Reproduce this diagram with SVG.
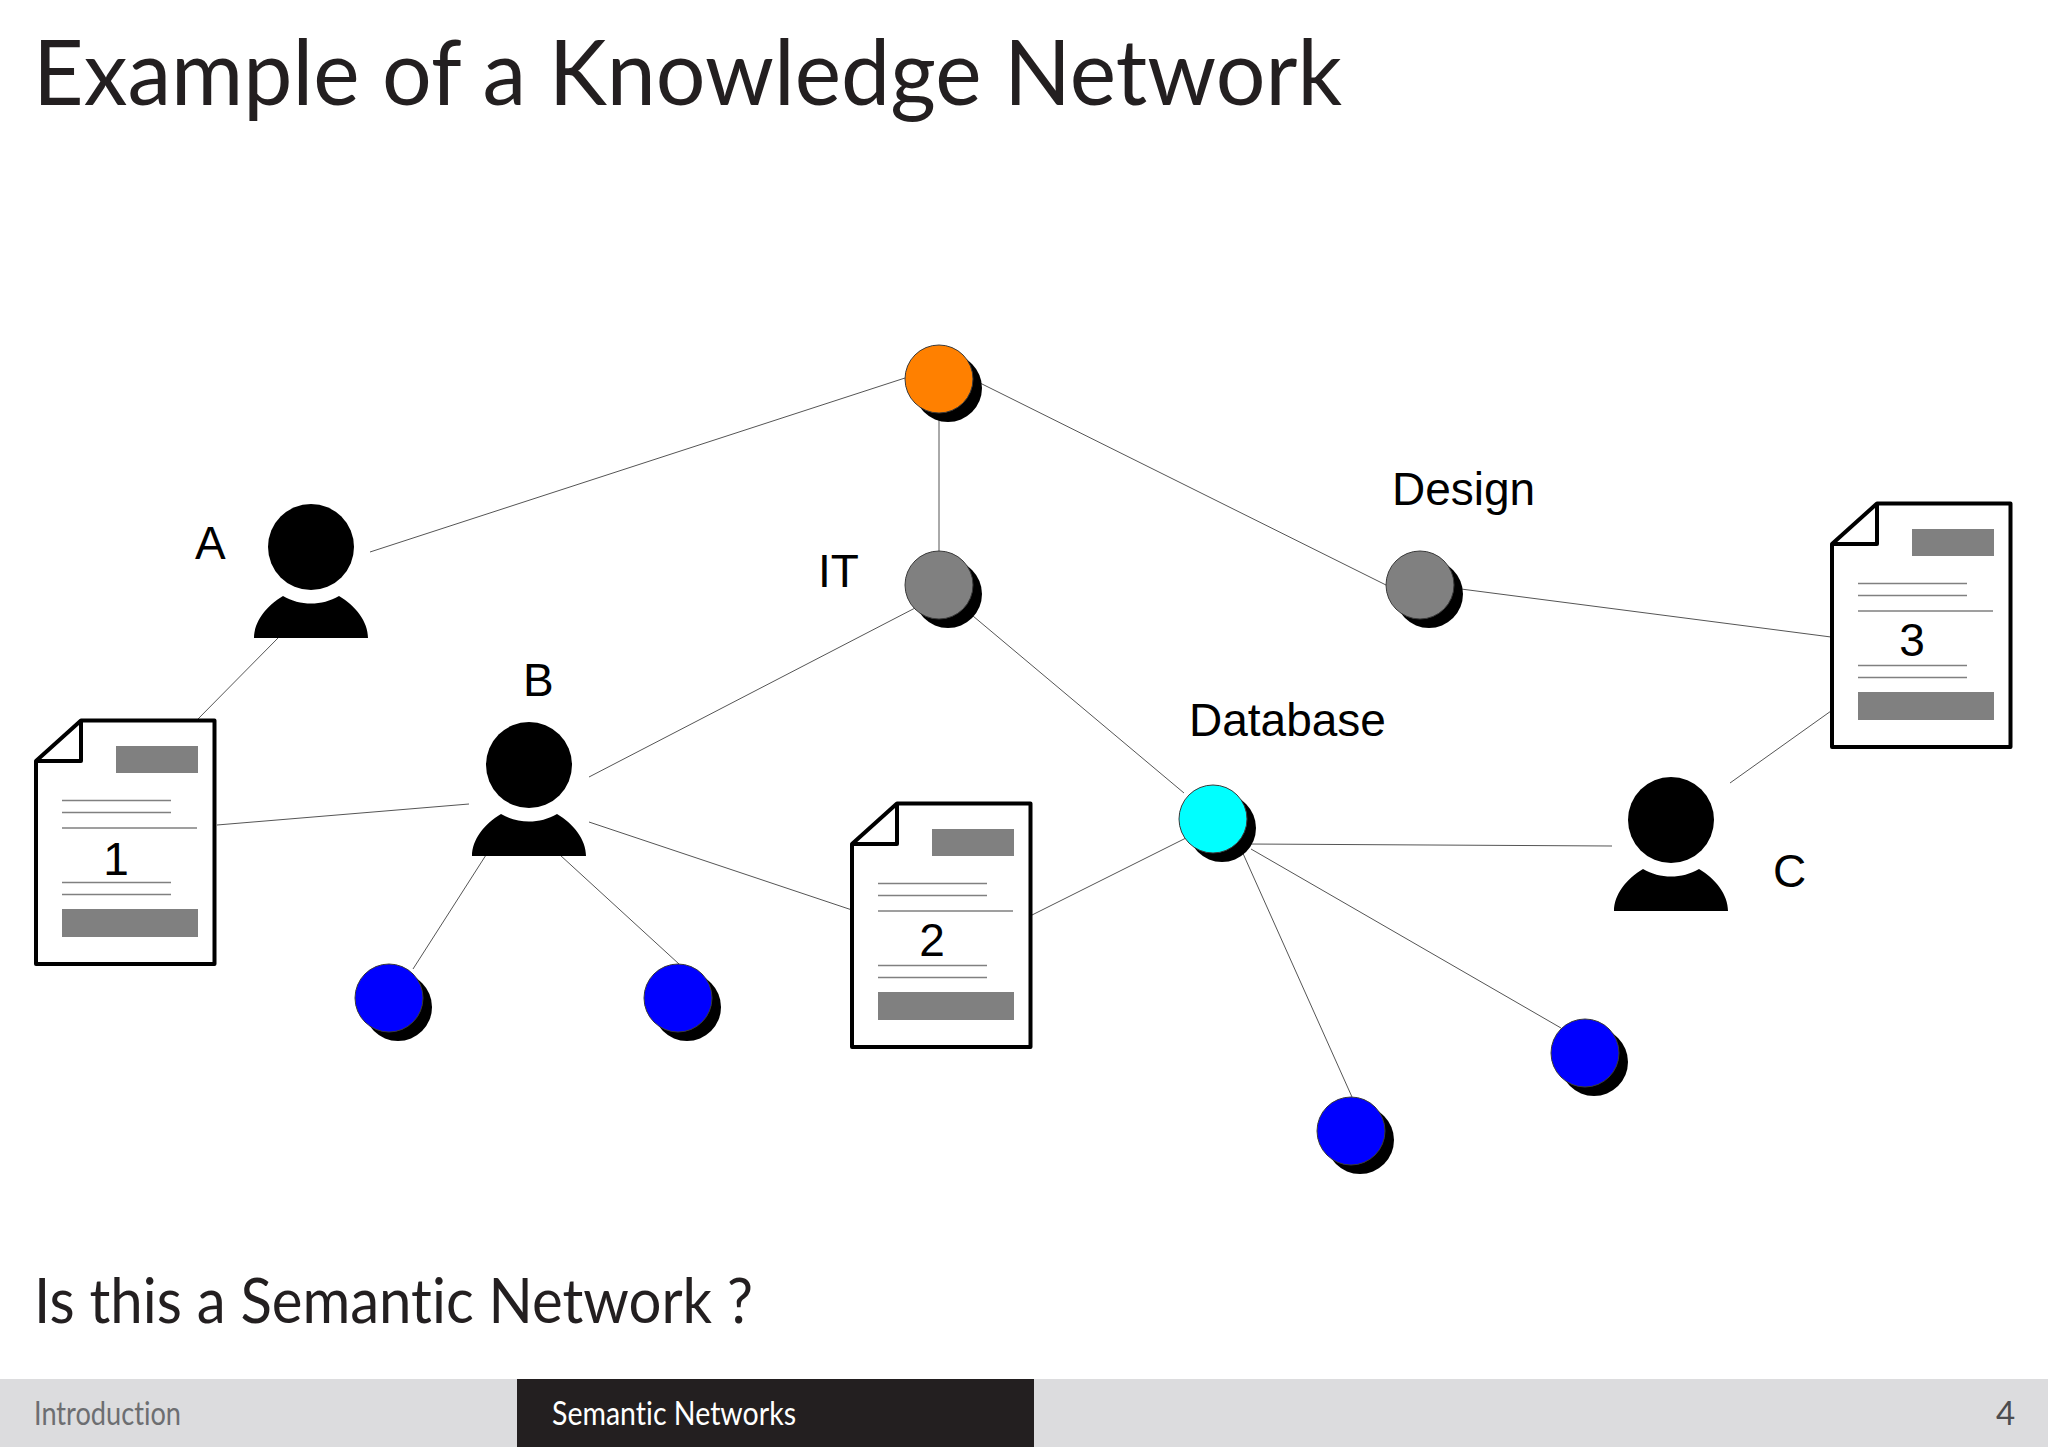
<svg xmlns="http://www.w3.org/2000/svg" width="2048" height="1447" viewBox="0 0 2048 1447">
<style>
.f{font-family:"Lato","Liberation Sans",sans-serif;font-weight:400;fill:#231f20;font-variant-ligatures:none}
.l{font-family:"Liberation Sans",Arial,sans-serif;font-size:46px;fill:#000}
.e{stroke:#555;stroke-width:1;fill:none}
.s{fill:#000}
.c{stroke:#3a3a3a;stroke-width:1}
.o{fill:#ff8000}.g{fill:#808080}.b{fill:#0000ff}.y{fill:#00ffff}
.t{stroke:#808080;stroke-width:1.6}
</style>
<defs>
<g id="person">
<circle cx="311" cy="547" r="43"/>
<path d="M254 638C254 622 266 606 283 596C300 606 322 606 339 596C356 606 368 622 368 638Z"/>
</g>
<g id="doc">
<path d="M36 761L81 720.500H214.500V964H36Z" fill="#fff" stroke="#000" stroke-width="4" stroke-linejoin="round"/>
<path d="M36 761H81V720.500" fill="none" stroke="#000" stroke-width="4" stroke-linejoin="round"/>
<rect x="116" y="746" width="82" height="27" fill="#808080"/>
<rect x="62" y="909" width="136" height="28" fill="#808080"/>
<path class="t" d="M62 800.500H171M62 812.500H171M62 828H197M62 882.500H171M62 894.500H171"/>
</g>
<g id="dot"><circle cx="9" cy="9" r="34" class="s"/></g>
</defs>
<rect width="2048" height="1447" fill="#fff"/>
<g id="connectors" class="e">
<line x1="370" y1="552" x2="905" y2="378"/>
<line x1="278" y1="638" x2="197" y2="720"/>
<line x1="217" y1="825" x2="469" y2="804"/>
<line x1="939" y1="412" x2="939" y2="552"/>
<line x1="980" y1="383" x2="1386" y2="585"/>
<line x1="1461" y1="589" x2="1831" y2="637"/>
<line x1="589" y1="777" x2="917" y2="607"/>
<line x1="973" y1="616" x2="1184" y2="793"/>
<line x1="589" y1="822" x2="852" y2="910"/>
<line x1="1032" y1="915" x2="1186" y2="838"/>
<line x1="1247" y1="844" x2="1612" y2="846"/>
<line x1="1241" y1="849" x2="1352" y2="1097"/>
<line x1="1251" y1="849" x2="1561" y2="1028"/>
<line x1="486" y1="855" x2="413" y2="969"/>
<line x1="560" y1="855" x2="679" y2="964"/>
<line x1="1730" y1="783" x2="1831" y2="711"/>
</g>
<g id="top"><use href="#dot" x="939" y="379"/><circle class="c o" cx="939" cy="379" r="34"/></g>
<g id="it"><use href="#dot" x="939" y="585"/><circle class="c g" cx="939" cy="585" r="34"/><text class="l" x="818" y="587">IT</text></g>
<g id="design"><use href="#dot" x="1420" y="585"/><circle class="c g" cx="1420" cy="585" r="34"/><text class="l" x="1392" y="505">Design</text></g>
<g id="database"><use href="#dot" x="1213" y="819"/><circle class="c y" cx="1213" cy="819" r="34"/><text class="l" x="1189" y="736">Database</text></g>
<g id="blue1"><use href="#dot" x="389" y="998"/><circle class="c b" cx="389" cy="998" r="34"/></g>
<g id="blue2"><use href="#dot" x="678" y="998"/><circle class="c b" cx="678" cy="998" r="34"/></g>
<g id="blue3"><use href="#dot" x="1585" y="1053"/><circle class="c b" cx="1585" cy="1053" r="34"/></g>
<g id="blue4"><use href="#dot" x="1351" y="1131"/><circle class="c b" cx="1351" cy="1131" r="34"/></g>
<g id="person-a"><use href="#person"/><text class="l" x="195" y="559">A</text></g>
<g id="person-b"><use href="#person" x="218" y="218"/><text class="l" x="523" y="696">B</text></g>
<g id="person-c"><use href="#person" x="1360" y="273"/><text class="l" x="1773" y="887">C</text></g>
<g id="doc-1"><use href="#doc"/><text class="l" x="116" y="875" text-anchor="middle">1</text></g>
<g id="doc-2"><use href="#doc" x="816" y="83"/><text class="l" x="932" y="956" text-anchor="middle">2</text></g>
<g id="doc-3"><use href="#doc" x="1796" y="-217"/><text class="l" x="1912" y="656" text-anchor="middle">3</text></g>
<text class="f" x="33" y="105" font-size="92" textLength="1309" lengthAdjust="spacingAndGlyphs">Example of a Knowledge Network</text>
<text class="f" x="34" y="1323" font-size="62" textLength="719" lengthAdjust="spacingAndGlyphs">Is this a Semantic Network ?</text>
<g id="footer">
<rect y="1379" width="2048" height="68" fill="#dcdcde"/>
<rect x="517" y="1379" width="517" height="68" fill="#231f20"/>
<text class="f" x="34" y="1425" font-size="33" textLength="147" lengthAdjust="spacingAndGlyphs" style="fill:#6d6e71">Introduction</text>
<text class="f" x="552" y="1425" font-size="33" textLength="244" lengthAdjust="spacingAndGlyphs" style="fill:#fff">Semantic Networks</text>
<text class="f" x="1996" y="1425" font-size="33" style="fill:#4d4d4f">4</text>
</g>
</svg>
